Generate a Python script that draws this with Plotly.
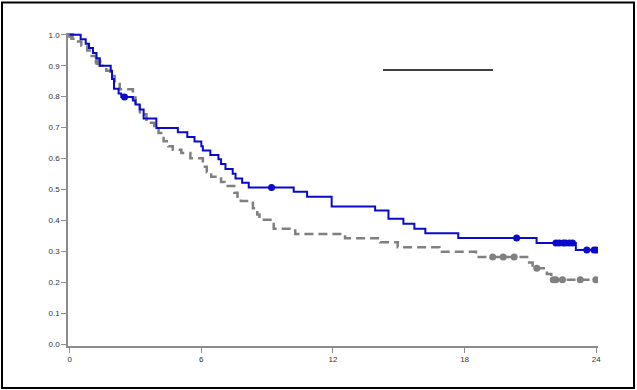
import plotly.graph_objects as go

# Kaplan-Meier step data (time in months, survival)
blue_t = [0, 0.5, 0.73, 0.88, 1.06, 1.22, 1.37, 1.87, 1.93, 2.02, 2.23, 2.35, 2.88, 3.0, 3.19, 3.37,
          3.95, 4.93, 5.36, 5.69, 6.0, 6.07, 6.41, 6.78, 6.9, 7.1, 7.43, 7.56, 7.86, 8.16, 10.21,
          10.82, 11.94, 13.92, 14.53, 15.21, 15.71, 16.21, 17.71, 21.28, 23.07]
blue_s = [1.0, 0.985, 0.971, 0.957, 0.941, 0.924, 0.900, 0.884, 0.857, 0.826, 0.810, 0.799, 0.788,
          0.775, 0.759, 0.730, 0.699, 0.685, 0.670, 0.655, 0.640, 0.626, 0.612, 0.598, 0.583, 0.567,
          0.551, 0.536, 0.522, 0.507, 0.493, 0.477, 0.446, 0.433, 0.406, 0.390, 0.374, 0.359, 0.344,
          0.328, 0.305]
blue_end = 24.0
blue_cens = [2.5, 9.2, 20.37, 22.16, 22.31, 22.5, 22.6, 22.77, 22.92, 23.57, 23.9, 24.0]

gray_t = [0, 0.08, 0.3, 0.53, 0.8, 1.0, 1.2, 1.37, 1.67, 1.85, 2.05, 2.28, 2.88, 3.0, 3.2, 3.5,
          3.85, 4.05, 4.28, 4.5, 4.7, 5.09, 5.5, 6.07, 6.25, 6.45, 6.9, 7.06, 7.5, 7.65, 7.8, 8.35,
          8.55, 8.65, 9.3, 10.28, 12.55, 14.15, 14.95, 16.85, 18.52, 20.85, 21.1, 21.75, 21.95]
gray_s = [1.0, 0.987, 0.978, 0.965, 0.949, 0.931, 0.913, 0.900, 0.884, 0.867, 0.846, 0.824, 0.797,
          0.781, 0.743, 0.716, 0.700, 0.683, 0.656, 0.640, 0.629, 0.618, 0.601, 0.574, 0.556, 0.542,
          0.525, 0.512, 0.490, 0.477, 0.463, 0.440, 0.420, 0.403, 0.374, 0.357, 0.343, 0.330, 0.314,
          0.300, 0.283, 0.265, 0.246, 0.228, 0.209]
gray_end = 24.0
gray_cens = [0.05, 1.29, 19.28, 19.76, 20.26, 21.29, 22.04, 22.16, 22.46, 23.27, 23.98]

x_ticks = [0, 6, 12, 18, 24]
y_ticks = [0.0, 0.1, 0.2, 0.3, 0.4, 0.5, 0.6, 0.7, 0.8, 0.9, 1.0]

BLUE = "#0A0ACD"
GRAY = "#808080"


def step_value(ts, ss, t):
    v = ss[0]
    for ti, si in zip(ts, ss):
        if ti <= t:
            v = si
    return v


fig = go.Figure()

# gray dashed curve
fig.add_trace(go.Scatter(x=gray_t + [gray_end], y=gray_s + [gray_s[-1]], mode="lines",
                         line=dict(color=GRAY, width=2.5, dash="9px,5px", shape="hv"),
                         showlegend=False, hoverinfo="skip"))
fig.add_trace(go.Scatter(x=gray_cens, y=[step_value(gray_t, gray_s, t) for t in gray_cens],
                         mode="markers", marker=dict(color=GRAY, size=7),
                         showlegend=False, hoverinfo="skip"))
# blue solid curve
fig.add_trace(go.Scatter(x=blue_t + [blue_end], y=blue_s + [blue_s[-1]], mode="lines",
                         line=dict(color=BLUE, width=2, shape="hv"),
                         showlegend=False, hoverinfo="skip"))
fig.add_trace(go.Scatter(x=blue_cens, y=[step_value(blue_t, blue_s, t) for t in blue_cens],
                         mode="markers", marker=dict(color=BLUE, size=7),
                         showlegend=False, hoverinfo="skip"))

axis_common = dict(showgrid=False, zeroline=False, showline=True, linecolor="#8c8c8c",
                   linewidth=1.5, ticks="outside", ticklen=5, tickcolor="#8c8c8c", tickwidth=1,
                   tickfont=dict(family="Liberation Sans, Arial", size=8, color="#333333"))

fig.update_xaxes(range=[-0.077, 24.08], tickvals=x_ticks, ticktext=[str(v) for v in x_ticks],
                 **axis_common)
fig.update_yaxes(range=[-0.0045, 1.0055], tickvals=y_ticks, ticktext=[f"{v:.1f}" for v in y_ticks],
                 **axis_common)

L, R, T, B = 68, 39, 33, 44
W, H = 637, 390
pw, ph = W - L - R, H - T - B


def px2paper_x(px):
    return (px - L) / pw


def px2paper_y(py):
    return (H - B - py) / ph


shapes = [
    # outer frame
    dict(type="rect", xref="paper", yref="paper",
         x0=px2paper_x(2), x1=px2paper_x(634), y0=px2paper_y(388), y1=px2paper_y(2.5),
         line=dict(color="black", width=2), fillcolor="rgba(0,0,0,0)", layer="above"),
    # short black line near the top
    dict(type="line", xref="paper", yref="paper",
         x0=px2paper_x(383), x1=px2paper_x(493), y0=px2paper_y(70), y1=px2paper_y(70),
         line=dict(color="black", width=1.5)),
]

fig.update_layout(width=W, height=H, margin=dict(l=L, r=R, t=T, b=B),
                  paper_bgcolor="white", plot_bgcolor="white", shapes=shapes,
                  showlegend=False)

fig.write_html("out.html", config={"displayModeBar": False},
               post_script="document.body.style.margin='0';document.body.style.overflow='hidden';")
